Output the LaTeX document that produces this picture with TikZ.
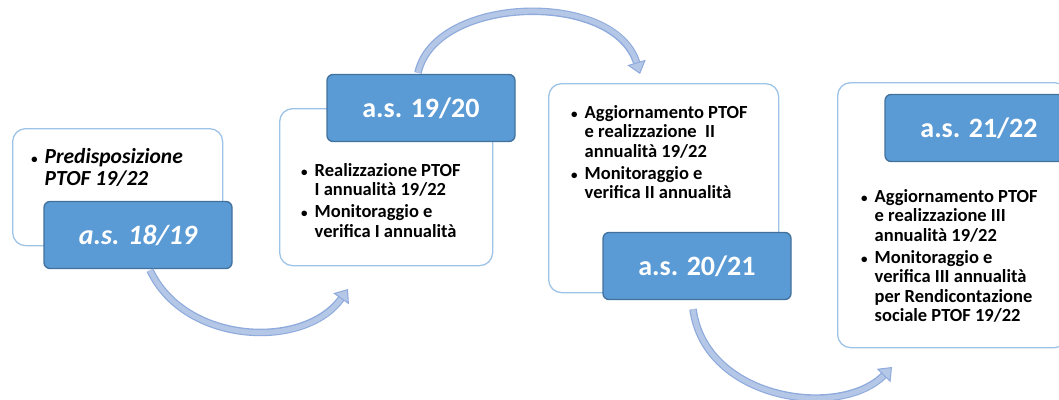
\documentclass[tikz,border=0pt]{standalone}
\usepackage{fontspec}
\setmainfont{Carlito}
\usetikzlibrary{arrows.meta,positioning}
\definecolor{yearFill}{HTML}{5B9BD5}
\definecolor{yearLine}{HTML}{41719C}
\definecolor{boxLine}{HTML}{9DC3E6}
\definecolor{arrowFill}{HTML}{B4C7E7}
\definecolor{arrowLine}{HTML}{8FAADC}
\newcommand{\itemGap}{2.5pt}
\newcommand{\yearWidth}{188pt}
\newcommand{\bul}{{\fontsize{13}{13}\selectfont\textbullet}}

\begin{document}
\begin{tikzpicture}[x=1pt, y=-1pt,
		box/.style={draw=boxLine, line width=1.3pt, rounded corners=13pt, fill=white, inner sep=0pt, anchor=north west},
		year/.style={draw=yearLine, fill=yearFill, line width=1.3pt, rounded corners=6pt, minimum width=\yearWidth, minimum height=67pt, text=white, font=\fontsize{28}{32}\selectfont\bfseries},
		items/.style={inner sep=0pt, anchor=base west, font=\fontsize{18.5}{19.5}\selectfont\bfseries},
		arc/.style={draw=arrowFill, line width=5pt, -{Triangle[length=12pt, width=19pt, color=arrowLine, fill=arrowFill, line width=1pt]}, preaction={draw=arrowLine, line width=7.5pt, shorten >=11pt, arrows=-}}]
	\useasboundingbox (0,0) rectangle (1059,399);
	% a.s. 18/19
	\node[box, minimum width=210pt, minimum height=117pt] (box1819) at (12,128) {};
	\node[items, font=\fontsize{21.5}{22}\selectfont\bfseries\itshape] (txt1819) at (31,163) {\begin{tabular}[t]{@{}l@{\hspace{7pt}}l@{}}
			\bul & Predisposizione\\
			& PTOF 19/22
		\end{tabular}};
	% a.s. 19/20
	\node[box, minimum width=213pt, minimum height=157pt] (box1920) at (279,108) {};
	\node[items] (txt1920) at (301,176) {\begin{tabular}[t]{@{}l@{\hspace{7pt}}l@{}}
			\bul & Realizzazione PTOF\\
			& I annualità 19/22\\[\itemGap]
			\bul & Monitoraggio e\\
			& verifica I annualità
		\end{tabular}};
	% a.s. 20/21
	\node[box, minimum width=230pt, minimum height=209pt] (box2021) at (548,83) {};
	\node[items] (txt2021) at (571,118) {\begin{tabular}[t]{@{}l@{\hspace{7pt}}l@{}}
			\bul & Aggiornamento PTOF\\
			& e realizzazione~ II\\
			& annualità 19/22\\[\itemGap]
			\bul & Monitoraggio e\\
			& verifica II annualità
		\end{tabular}};
	% a.s. 21/22
	\node[box, minimum width=230pt, minimum height=265pt] (box2122) at (837,82) {};
	\node[items] (txt2122) at (861,202) {\begin{tabular}[t]{@{}l@{\hspace{7pt}}l@{}}
			\bul & Aggiornamento PTOF\\
			& e realizzazione III\\
			& annualità 19/22\\[\itemGap]
			\bul & Monitoraggio e\\
			& verifica III annualità\\
			& per Rendicontazione\\
			& sociale PTOF 19/22
		\end{tabular}};
	% labels
	\node[year] (as1819) at (138,235) {\itshape a.s. 18/19};
	\node[year] (as1920) at (421,108) {a.s. 19/20};
	\node[year] (as2021) at (697,266) {a.s. 20/21};
	\node[year] (as2122) at (979,128) {a.s. 21/22};
	% arrows
	\coordinate (tip1) at (348,289);
	\coordinate (tip2) at (640,74);
	\coordinate (tip3) at (892,367);
	\draw[arc] ([xshift=12pt,yshift=-1pt]as1819.south) .. controls (185,345) and (305,350) .. (tip1);
	\draw[arc] ([xshift=-3pt,yshift=1pt]as1920.north) .. controls (435,-5) and (615,-10) .. (tip2);
	\draw[arc] ([xshift=-4pt,yshift=-9pt]as2021.south) .. controls (705,400) and (840,420) .. (tip3);
\end{tikzpicture}
\end{document}
